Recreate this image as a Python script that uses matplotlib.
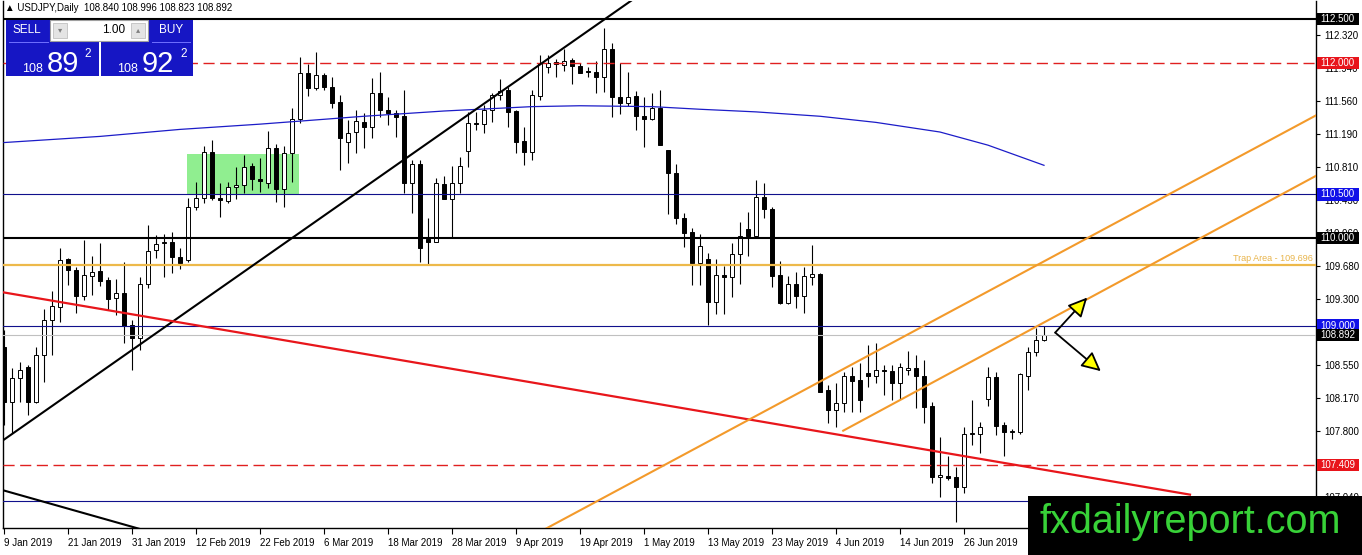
import matplotlib
matplotlib.use("Agg")
import numpy as np
import matplotlib.pyplot as plt
from matplotlib.patches import Rectangle, FancyArrowPatch
from matplotlib.lines import Line2D
import matplotlib.transforms as mtransforms

# USDJPY daily candles, 9 Jan 2019 .. 10 Jul 2019
opens = [108.75, 108.13, 108.40, 108.53, 108.13, 108.66, 109.06, 109.21, 109.76, 109.64,
         109.34, 109.57, 109.62, 109.52, 109.31, 109.37, 109.01, 108.86, 109.48, 109.86,
         109.94, 109.95, 109.78, 109.75, 110.35, 110.46, 110.98, 110.46, 110.42, 110.58,
         110.61, 110.82, 110.67, 110.63, 111.03, 110.56, 110.97, 111.36, 111.88, 111.71,
         111.86, 111.72, 111.55, 111.10, 111.21, 111.32, 111.27, 111.66, 111.46, 111.43,
         111.39, 110.63, 110.84, 109.99, 109.95, 110.62, 110.45, 110.63, 110.99, 111.31,
         111.30, 111.46, 111.63, 111.69, 111.45, 111.11, 110.98, 111.62, 111.95, 112.01,
         111.98, 112.03, 111.96, 111.91, 111.90, 111.84, 112.16, 111.61, 111.54, 111.62,
         111.39, 111.36, 111.48, 111.01, 110.74, 110.23, 110.07, 109.72, 109.76, 109.27,
         109.58, 109.56, 109.82, 110.10, 110.02, 110.47, 110.33, 109.58, 109.26, 109.48,
         109.34, 109.56, 109.59, 108.27, 108.04, 108.12, 108.43, 108.38, 108.46, 108.42,
         108.49, 108.48, 108.35, 108.49, 108.52, 108.42, 108.08, 107.27, 107.28, 107.27,
         107.16, 107.76, 107.76, 108.16, 108.41, 107.86, 107.79, 107.79, 108.42, 108.70,
         108.840]
highs = [108.95, 108.52, 108.58, 108.55, 108.76, 109.19, 109.39, 109.89, 109.77, 109.67,
         109.98, 109.80, 109.94, 109.55, 109.53, 109.73, 109.06, 109.55, 110.15, 110.03,
         110.05, 110.07, 109.89, 110.46, 110.64, 111.05, 111.12, 110.63, 110.64, 110.81,
         110.95, 110.86, 110.91, 111.22, 111.07, 111.05, 111.48, 112.07, 111.99, 112.12,
         111.88, 111.84, 111.63, 111.35, 111.46, 111.43, 111.83, 111.90, 111.61, 111.46,
         111.69, 110.89, 110.89, 110.23, 110.68, 110.71, 110.82, 110.93, 111.44, 111.44,
         111.52, 111.66, 111.82, 111.72, 111.46, 111.27, 111.69, 112.09, 112.09, 112.04,
         112.16, 112.05, 112.00, 111.95, 112.02, 112.40, 112.23, 112.00, 111.90, 111.68,
         111.61, 111.66, 111.69, 111.01, 110.84, 110.29, 110.11, 110.05, 109.83, 109.76,
         109.68, 109.94, 110.18, 110.30, 110.66, 110.63, 110.35, 109.74, 109.57, 109.61,
         109.67, 109.92, 109.60, 108.32, 108.34, 108.47, 108.53, 108.57, 108.78, 108.80,
         108.55, 108.55, 108.57, 108.71, 108.66, 108.61, 108.13, 107.73, 107.51, 107.39,
         107.84, 108.15, 107.90, 108.53, 108.47, 107.90, 107.82, 108.46, 108.76, 108.97,
         108.996]
lows = [107.87, 107.77, 108.13, 107.98, 108.12, 108.36, 108.66, 109.04, 109.46, 109.14,
        109.29, 109.35, 109.45, 109.18, 109.12, 108.80, 108.49, 108.72, 109.43, 109.77,
        109.55, 109.60, 109.65, 109.73, 110.32, 110.40, 110.43, 110.24, 110.40, 110.45,
        110.51, 110.55, 110.52, 110.57, 110.41, 110.35, 110.64, 111.31, 111.62, 111.69,
        111.69, 111.48, 110.78, 110.86, 110.97, 111.03, 111.14, 111.38, 111.29, 111.15,
        110.51, 110.29, 109.73, 109.69, 109.95, 110.44, 110.00, 110.51, 110.81, 111.23,
        111.20, 111.32, 111.58, 111.27, 110.97, 110.83, 110.89, 111.57, 111.88, 111.84,
        111.91, 111.76, 111.88, 111.84, 111.66, 111.67, 111.38, 111.42, 111.51, 111.23,
        111.04, 111.35, 111.06, 110.27, 110.16, 109.90, 109.46, 109.46, 109.01, 109.13,
        109.13, 109.33, 109.48, 109.79, 110.00, 110.23, 109.44, 109.25, 109.25, 109.20,
        109.14, 109.46, 108.24, 107.89, 107.84, 108.01, 108.01, 108.01, 108.30, 108.34,
        108.21, 108.15, 108.16, 108.44, 108.06, 107.89, 107.20, 107.04, 107.24, 106.76,
        107.09, 107.64, 107.55, 108.08, 107.75, 107.51, 107.70, 107.76, 108.27, 108.65,
        108.823]
closes = [108.13, 108.40, 108.49, 108.13, 108.66, 109.06, 109.22, 109.75, 109.64, 109.34,
          109.58, 109.61, 109.51, 109.30, 109.37, 109.00, 108.86, 109.48, 109.85, 109.93,
          109.95, 109.78, 109.71, 110.35, 110.46, 110.98, 110.46, 110.43, 110.58, 110.61,
          110.81, 110.67, 110.65, 111.03, 110.56, 110.97, 111.36, 111.88, 111.71, 111.86,
          111.72, 111.54, 111.14, 111.20, 111.34, 111.27, 111.66, 111.46, 111.43, 111.38,
          110.63, 110.84, 109.89, 109.95, 110.63, 110.45, 110.63, 110.82, 111.31, 111.30,
          111.46, 111.63, 111.68, 111.44, 111.10, 110.98, 111.63, 112.00, 112.00, 111.99,
          112.02, 111.96, 111.88, 111.90, 111.84, 112.16, 111.61, 111.54, 111.61, 111.39,
          111.36, 111.48, 111.06, 110.74, 110.23, 110.06, 109.72, 109.91, 109.27, 109.58,
          109.56, 109.82, 110.02, 110.02, 110.47, 110.33, 109.57, 109.26, 109.48, 109.34,
          109.57, 109.59, 108.24, 108.04, 108.12, 108.42, 108.37, 108.15, 108.42, 108.49,
          108.48, 108.35, 108.53, 108.52, 108.42, 108.07, 107.27, 107.29, 107.26, 107.16,
          107.76, 107.77, 107.84, 108.41, 107.85, 107.79, 107.80, 108.45, 108.70, 108.83,
          108.892]

# moving average (blue), read at a few bars
ma_bars = [0, 12, 22, 32, 45, 55, 66, 72, 81, 87, 94, 102, 109, 117, 123, 130]
ma_vals = [111.09, 111.16, 111.24, 111.30, 111.39, 111.45, 111.50, 111.51, 111.50,
           111.47, 111.44, 111.39, 111.32, 111.21, 111.06, 110.83]

date_labels = ["9 Jan 2019", "21 Jan 2019", "31 Jan 2019", "12 Feb 2019", "22 Feb 2019",
               "6 Mar 2019", "18 Mar 2019", "28 Mar 2019", "9 Apr 2019", "19 Apr 2019",
               "1 May 2019", "13 May 2019", "23 May 2019", "4 Jun 2019", "14 Jun 2019",
               "26 Jun 2019"]
date_bars = list(range(0, 121, 8))

price_ticks = [112.320, 111.940, 111.560, 111.190, 110.810, 110.430, 110.060, 109.680,
               109.300, 108.920, 108.550, 108.170, 107.800, 107.420, 107.040]

# drawn levels: price, colour of label box
level_marks = [(112.500, "black"), (112.000, "#e8141b"), (110.500, "#1010e8"),
               (110.000, "black"), (109.000, "#1010e8"), (108.892, "black"),
               (107.409, "#e8141b")]
trap_level = 109.696

# trendlines: (bar0, bar1), (price0, price1)
black_up = ([-0.125, 82.0], [107.69, 112.94])
black_down = ([-0.125, 20.0], [107.12, 106.60])
red_line = ([-0.125, 148.25], [109.38, 107.07])
orange_top = ([67.5, 164.0], [106.67, 111.40])
orange_low = ([104.9, 164.0], [107.80, 110.71])
box_bars = (22.9, 36.9)
box_prices = (110.50, 110.96)
arrow_start = (131.4, 108.92)
arrow_up_end = (135.4, 109.32)
arrow_down_end = (137.1, 108.48)

W, H = 1362, 555
def fx(px):
    return px / W
def fy(py):
    return 1 - py / H

FONT = ["Liberation Sans", "DejaVu Sans"]
plt.rcParams["font.family"] = FONT

fig = plt.figure(figsize=(W / 100, H / 100), dpi=100)
ax = fig.add_axes([fx(3), fy(528), fx(1316) - fx(3), fy(1) - fy(528)])
ax.set_xlim(-0.125, 164)
ax.set_ylim(106.689, 112.706)

# green zone behind candles
ax.add_patch(Rectangle((box_bars[0], box_prices[0]), box_bars[1] - box_bars[0],
                       box_prices[1] - box_prices[0], facecolor="#90ee90",
                       edgecolor="none", zorder=1))

# candles
o = np.array(opens); h = np.array(highs); l = np.array(lows); c = np.array(closes)
idx = np.arange(len(o))
bull = c >= o
ax.vlines(idx, l, h, color="black", lw=0.8, zorder=2)
body = np.maximum(np.abs(c - o), 0.004)
ax.bar(idx, body, bottom=np.minimum(o, c), width=0.62,
       color=np.where(bull, "white", "black"), edgecolor="black", linewidth=0.7, zorder=2.1)

# moving average
ax.plot(ma_bars, ma_vals, color="#1c1cc8", lw=0.9, zorder=3)

# horizontal levels
ax.axhline(112.500, color="black", lw=1.5, zorder=3)
ax.axhline(112.000, color="#e02020", lw=1.0, dashes=(8, 4), zorder=3)
ax.axhline(110.500, color="#10108c", lw=0.8, zorder=3)
ax.axhline(110.000, color="black", lw=1.5, zorder=3)
ax.axhline(trap_level, color="#edb94a", lw=1.6, zorder=3)
ax.axhline(109.000, color="#10108c", lw=0.8, zorder=3)
ax.axhline(108.892, color="#c0c0c0", lw=0.8, zorder=3)
ax.axhline(107.409, color="#e02020", lw=1.0, dashes=(8, 4), zorder=3)
ax.axhline(107.000, color="#10108c", lw=0.8, zorder=3)
ax.text(163.6, trap_level + 0.02, "Trap Area - 109.696", ha="right", va="bottom",
        color="#e8b44a", fontsize=6.5, zorder=4)

# trendlines
ax.plot(*black_up, color="black", lw=1.5, zorder=3)
ax.plot(*black_down, color="black", lw=1.5, zorder=3)
ax.plot(*red_line, color="#e8161b", lw=1.6, zorder=3)
ax.plot(*orange_top, color="#f39a2b", lw=1.5, zorder=3)
ax.plot(*orange_low, color="#f39a2b", lw=1.5, zorder=3)

for end in (arrow_up_end, arrow_down_end):
    ax.add_patch(FancyArrowPatch(arrow_start, end, arrowstyle="-|>,head_length=0.65,head_width=0.32",
                                 mutation_scale=18, facecolor="#ffff00", edgecolor="black",
                                 lw=1.3, shrinkA=0, shrinkB=0, zorder=4))

# axes styling
ax.spines["top"].set_visible(False)
for s in ("left", "right", "bottom"):
    ax.spines[s].set_linewidth(1.0)
ax.yaxis.tick_right()
ax.set_yticks(price_ticks)
ax.set_yticklabels([f"{v:.3f}" for v in price_ticks])
ax.tick_params(axis="y", direction="out", length=3, width=0.8, labelsize=7, pad=3)
ax.set_xticks(date_bars)
ax.set_xticklabels(date_labels, ha="left")
ax.tick_params(axis="x", direction="out", length=4, width=0.8, labelsize=7, pad=3)

# price tags on the right scale: a solid tag covering the tick label underneath
tag_tr = mtransforms.blended_transform_factory(fig.transFigure, ax.transData)
tag_h = 0.072
for price, col in level_marks:
    fig.add_artist(Rectangle((fx(1317), price - tag_h), fx(1359) - fx(1317), 2 * tag_h,
                             transform=tag_tr, facecolor=col, edgecolor="none", zorder=4))
    fig.text(fx(1320), price, f"{price:.3f}", color="white", fontsize=7, ha="left",
             va="center", transform=tag_tr, zorder=5)

# title line
fig.text(fx(5), fy(8), "\u25b2 USDJPY,Daily  108.840 108.996 108.823 108.892",
         fontsize=7, va="center", ha="left", family=FONT)

# one-click trading panel
def frect(x0, y0, x1, y1, **kw):
    fig.add_artist(Rectangle((fx(x0), fy(y1)), fx(x1) - fx(x0), fy(y0) - fy(y1),
                             transform=fig.transFigure, **kw))

blue = "#1616c4"
frect(6, 20, 99, 76, facecolor=blue, edgecolor="none")
frect(101, 20, 193, 76, facecolor=blue, edgecolor="none")
frect(50, 20, 148, 41, facecolor="white", edgecolor="#a0a0a0", lw=0.8)
frect(53, 23, 67, 38, facecolor="#e4e4e4", edgecolor="#c0c0c0", lw=0.6)
frect(131, 23, 145, 38, facecolor="#e4e4e4", edgecolor="#c0c0c0", lw=0.6)
fig.text(fx(60), fy(30.5), "\u25be", color="#808080", fontsize=6, ha="center", va="center")
fig.text(fx(138), fy(30.5), "\u25b4", color="#808080", fontsize=6, ha="center", va="center")
fig.text(fx(125), fy(30), "1.00", color="black", fontsize=8.5, ha="right", va="center")
fig.text(fx(27), fy(30), "SELL", color="white", fontsize=8.5, ha="center", va="center")
fig.text(fx(171), fy(30), "BUY", color="white", fontsize=8.5, ha="center", va="center")
for x0, x1 in ((9, 48), (152, 190)):
    fig.add_artist(Line2D([fx(x0), fx(x1)], [fy(41.5), fy(41.5)], color="#7070ff", lw=0.7,
                          transform=fig.transFigure))
for xs, big, xb, xsup in ((22, "89", 47, 84), (117, "92", 142, 180)):
    fig.text(fx(xs), fy(71.5), "108", color="white", fontsize=9, ha="left", va="baseline")
    fig.text(fx(xb), fy(71.5), big, color="white", fontsize=21, ha="left", va="baseline")
    fig.text(fx(xsup), fy(57), "2", color="white", fontsize=8.5, ha="left", va="baseline")

# watermark
frect(1028, 496, 1362, 555, facecolor="black", edgecolor="none")
fig.text(fx(1039), fy(522), "fxdailyreport.com", color="#38d238", fontsize=28.5,
         ha="left", va="center", family=FONT)

fig.savefig("out.png", dpi=100)
